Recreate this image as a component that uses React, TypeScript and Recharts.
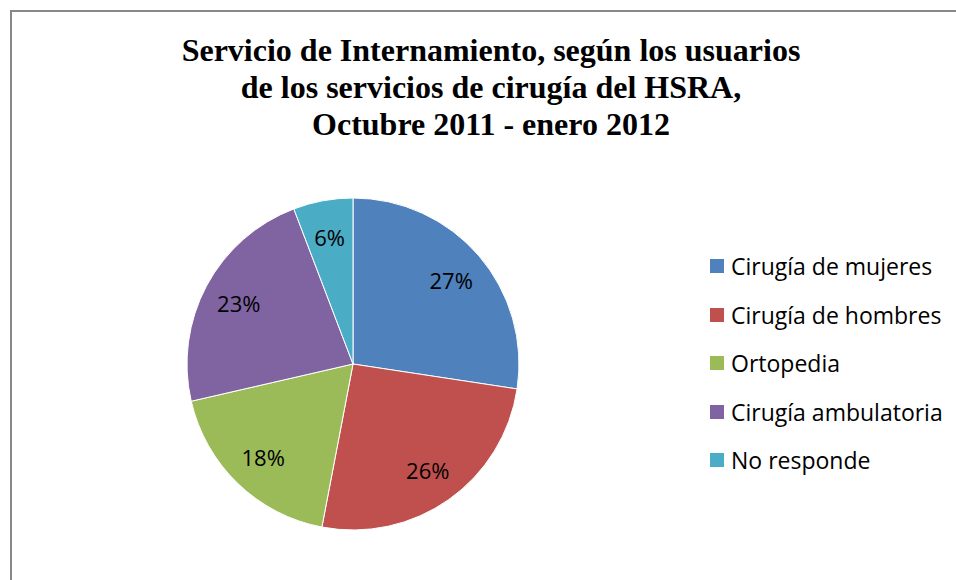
import { PieChart, Pie, Cell, Legend } from "recharts";

const categories = [
  "Cirugía de mujeres",
  "Cirugía de hombres",
  "Ortopedia",
  "Cirugía ambulatoria",
  "No responde",
];
const shares = [27.4, 25.6, 18.4, 22.8, 5.8];
const titleLines = [
  "Servicio de Internamiento, según los usuarios",
  "de los servicios de cirugía del HSRA,",
  "Octubre 2011 - enero 2012",
];

const COLORS = ["#4F81BD", "#C0504D", "#9BBB59", "#8064A2", "#4BACC6"];
const FONT = '"Open Sans", "Noto Sans", sans-serif';

const data = categories.map((name, i) => ({ name, value: shares[i] }));

const RAD = Math.PI / 180;

function renderLabel({ cx, cy, midAngle, outerRadius, percent }: any) {
  const r = outerRadius * 0.78;
  const x = cx + r * Math.cos(-midAngle * RAD);
  const y = cy + r * Math.sin(-midAngle * RAD);
  return (
    <text
      x={x}
      y={y}
      textAnchor="middle"
      dominantBaseline="central"
      fill="#000"
      style={{ fontSize: 22, fontFamily: FONT }}
    >
      {`${Math.round(percent * 100)}%`}
    </text>
  );
}

function LegendContent() {
  return (
    <div style={{ fontFamily: FONT, fontSize: 23, color: "#000" }}>
      {categories.map((c, i) => (
        <div key={c} style={{ display: "flex", alignItems: "center", height: 48.5 }}>
          <span
            style={{ width: 14, height: 14, background: COLORS[i], marginRight: 7, flexShrink: 0 }}
          />
          <span style={{ whiteSpace: "nowrap" }}>{c}</span>
        </div>
      ))}
    </div>
  );
}

export default function App() {
  return (
    <div style={{ position: "fixed", inset: 0, overflow: "hidden", background: "#fff" }}>
      <div
        style={{
          position: "absolute",
          left: 10,
          top: 10,
          width: 980,
          height: 620,
          border: "2px solid #888",
          boxSizing: "border-box",
        }}
      />
      <div
        style={{
          position: "absolute",
          left: 0,
          top: 32,
          width: 982,
          textAlign: "center",
          fontFamily: '"Liberation Serif", "Times New Roman", serif',
          fontWeight: "bold",
          fontSize: 32,
          lineHeight: "37px",
          color: "#000",
        }}
      >
        {titleLines.map((t) => (
          <div key={t}>{t}</div>
        ))}
      </div>
      <div style={{ position: "absolute", left: 0, top: 0 }}>
        <PieChart width={956} height={580}>
          <Pie
            data={data}
            dataKey="value"
            nameKey="name"
            cx={348}
            cy={359}
            outerRadius={166}
            startAngle={90}
            endAngle={-270}
            stroke="#fff"
            strokeWidth={1}
            label={renderLabel}
            labelLine={false}
            isAnimationActive={false}
          >
            {data.map((_, i) => (
              <Cell key={i} fill={COLORS[i]} />
            ))}
          </Pie>
          <Legend
            layout="vertical"
            content={<LegendContent />}
            wrapperStyle={{ position: "absolute", left: 710, top: 242, width: 246 }}
          />
        </PieChart>
      </div>
    </div>
  );
}
